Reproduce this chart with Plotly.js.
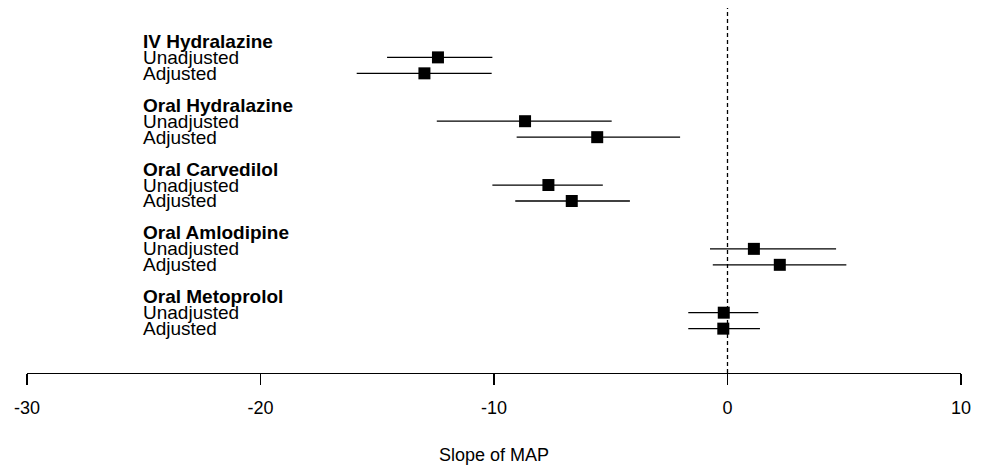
<!DOCTYPE html>
<html>
<head>
<meta charset="utf-8">
<script src="https://cdn.plot.ly/plotly-3.0.1.min.js"></script>
<style>html,body{margin:0;padding:0;background:#fff;}#chart{width:984px;height:465px;}</style>
</head>
<body>
<div id="chart"></div>
<script>
// Data
var groups = ['IV Hydralazine', 'Oral Hydralazine', 'Oral Carvedilol', 'Oral Amlodipine', 'Oral Metoprolol'];
var rowLabels = ['Unadjusted', 'Adjusted'];
var unadjEst = [-12.40, -8.67, -7.67, 1.13, -0.16];
var unadjLo  = [-14.58, -12.45, -10.07, -0.75, -1.68];
var unadjHi  = [-10.07, -4.96, -5.34, 4.65, 1.32];
var adjEst   = [-12.98, -5.58, -6.67, 2.24, -0.18];
var adjLo    = [-15.88, -9.03, -9.09, -0.63, -1.68];
var adjHi    = [-10.10, -2.03, -4.18, 5.09, 1.39];
var xTicks = [-30, -20, -10, 0, 10];

var FONT = 'Liberation Sans, Arial, sans-serif';
var ys = [], xs = [], ep = [], em = [];
var annotations = [];
var labelX = -25.12;
groups.forEach(function (g, i) {
  var base = 4 * i;
  annotations.push({x: labelX, y: base, xref: 'x', yref: 'y', text: '<b>' + g + '</b>',
    showarrow: false, xanchor: 'left', yanchor: 'middle', font: {family: FONT, size: 19, color: '#000'}});
  annotations.push({x: labelX, y: base + 1, xref: 'x', yref: 'y', text: rowLabels[0],
    showarrow: false, xanchor: 'left', yanchor: 'middle', font: {family: FONT, size: 19, color: '#000'}});
  annotations.push({x: labelX, y: base + 2, xref: 'x', yref: 'y', text: rowLabels[1],
    showarrow: false, xanchor: 'left', yanchor: 'middle', font: {family: FONT, size: 19, color: '#000'}});
  xs.push(unadjEst[i]); ys.push(base + 1); ep.push(unadjHi[i] - unadjEst[i]); em.push(unadjEst[i] - unadjLo[i]);
  xs.push(adjEst[i]); ys.push(base + 2); ep.push(adjHi[i] - adjEst[i]); em.push(adjEst[i] - adjLo[i]);
});

var trace = {
  type: 'scatter', mode: 'markers', x: xs, y: ys,
  marker: {symbol: 'square', size: 12, color: '#000'},
  error_x: {type: 'data', symmetric: false, array: ep, arrayminus: em, width: 0, thickness: 1.3, color: '#000'},
  hoverinfo: 'x', showlegend: false
};

var layout = {
  width: 984, height: 465,
  margin: {l: 27, r: 23, t: 8, b: 92},
  paper_bgcolor: '#fff', plot_bgcolor: '#fff',
  showlegend: false,
  xaxis: {
    range: [-30, 10], tickvals: xTicks, ticktext: xTicks.map(String),
    showgrid: false, zeroline: false, showline: true, linecolor: '#000', linewidth: 1.3,
    ticks: 'outside', ticklen: 11, tickwidth: 1.3, tickcolor: '#000',
    ticklabelstandoff: 7,
    tickfont: {family: FONT, size: 18, color: '#000'},
    title: {text: 'Slope of MAP', font: {family: FONT, size: 18, color: '#000'}, standoff: 37},
    fixedrange: true
  },
  yaxis: {
    range: [20.78, -2.095], visible: false, showgrid: false, zeroline: false, fixedrange: true
  },
  shapes: [{type: 'line', xref: 'x', yref: 'paper', x0: 0, x1: 0, y0: 0, y1: 1,
    line: {color: '#000', width: 1.3, dash: '4px,3px'}}],
  annotations: annotations
};

Plotly.newPlot('chart', [trace], layout, {displayModeBar: false, staticPlot: true});
</script>
</body>
</html>
